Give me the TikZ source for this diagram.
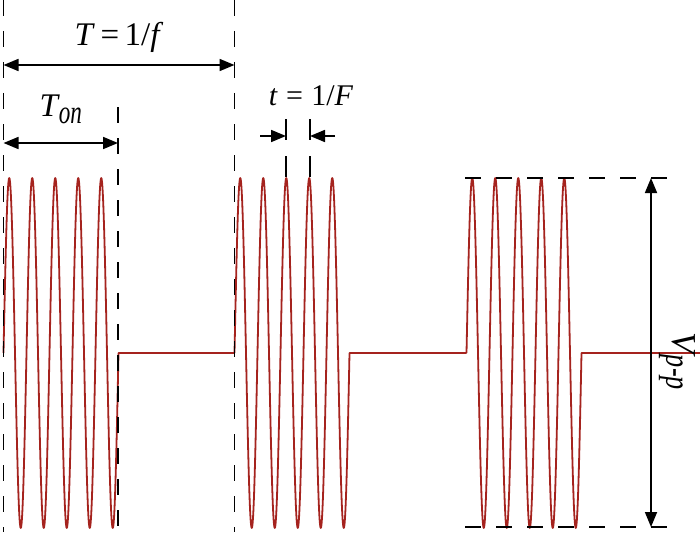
\documentclass[tikz,border=0pt]{standalone}
\usepackage{fontspec}
\setmainfont{Liberation Serif}
\usetikzlibrary{positioning, calc, arrows.meta}
\definecolor{burstred}{RGB}{165,35,30}
\tikzset{
    signal/.style={burstred, line width=1.8pt, line join=round},
    guide/.style={black, line width=1.7pt, dash pattern=on 16pt off 15pt},
    dim/.style={black, line width=1.7pt, {Triangle[length=15pt,width=12pt]}-{Triangle[length=15pt,width=12pt]}},
    single/.style={black, line width=1.7pt, -{Triangle[length=15pt,width=12pt]}},
    lbl/.style={font=\fontsize{33}{36}\selectfont, inner sep=0pt, anchor=base}
}
\begin{document}
\begin{tikzpicture}[x=1pt, y=-1pt]
        \useasboundingbox (0,0) rectangle (700,532);
        \pgfmathsetmacro{\per}{23}   % carrier period
        \pgfmathsetmacro{\amp}{175}  % half of V_{p-p}
        \pgfmathsetmacro{\zero}{353} % zero line
        %Bursts and zero line
        \foreach \s/\e in {3.5/234.5, 234.5/466.5, 466.5/700}{
            \draw[signal] plot[domain=0:115, samples=301, smooth] ({\s+\x}, {\zero-\amp*sin(\x/\per*360)})
                -- (\s+115,\zero) -- (\e,\zero);
        }
        %Extra coordinates for dimensions
        \coordinate (P0) at (3.5,0);   \coordinate (P1) at (234.5,0);
        \coordinate (on) at (118,107);
        \coordinate (top) at (465,178); \coordinate (bot) at (465,527);
        \coordinate (pkA) at (286,119); \coordinate (pkB) at (310,119);
        %Frames
        \draw[guide] (P0) -- (P0 |- 0,532);
        \draw[guide] (P1) -- (P1 |- 0,532);
        \draw[guide] (on) -- (on |- 0,532);
        \draw[guide] (top) -- ++(202,0);
        \draw[guide] (bot) -- ++(202,0);
        \draw[black, line width=1.7pt, dash pattern=on 21pt off 16pt] (pkA) -- (pkA |- top);
        \draw[black, line width=1.7pt, dash pattern=on 21pt off 16pt] (pkB) -- (pkB |- top);
        %Dimensions
        \draw[dim] (P0 |- 0,65) -- (P1 |- 0,65) node[lbl, midway, yshift=19pt] (T) {\textit{T}\,=\,1/\textit{f}};
        \draw[dim] (P0 |- 0,143) -- (on |- 0,143) node[lbl, midway, yshift=26pt] (Ton) {\textit{T}\kern-1pt\raisebox{-6pt}{\scalebox{0.7}[1]{\textit{on}}}};
        \draw[single] (260,136) -- (pkA |- 0,136);
        \draw[single] (335,136) -- (pkB |- 0,136);
        \node[lbl, font=\fontsize{30}{33}\selectfont] (tF) at (311,105) {\textit{t}\;=\;1/\textit{F}};
        \draw[dim] (651,178) -- (651,527);
        \node[lbl, anchor=center, rotate=-90, font=\fontsize{35}{38}\selectfont] (Vpp) at (677,361) {\textit{V}\kern-2pt\raisebox{-6pt}{\scalebox{0.75}[1]{\textit{p-p}}}};
\end{tikzpicture}
\end{document}
